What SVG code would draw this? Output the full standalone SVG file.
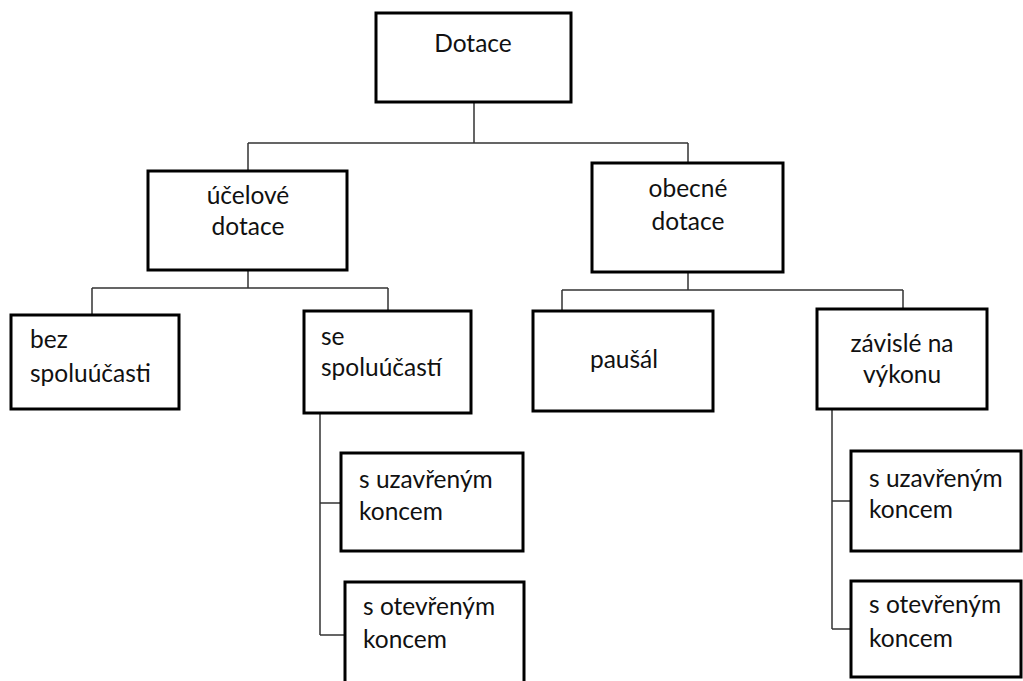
<svg xmlns="http://www.w3.org/2000/svg" width="1023" height="681" viewBox="0 0 1023 681">
<style>
.box{fill:#fff;stroke:#000;stroke-width:3}
.t{font-family:Lato,"Open Sans",sans-serif;font-size:24.5px;fill:#111}
.c{text-anchor:middle}
.ln{fill:none;stroke:#333;stroke-width:1.5}
</style>
<rect width="1023" height="681" fill="#fff"/>
<g id="connectors">
<path class="ln" d="M474 102V143M248 143H688M248 143V171M688 143V163"/>
<path class="ln" d="M248 270V288M92 288H388M92 288V315M388 288V311"/>
<path class="ln" d="M688 272V290M562 290H903M562 290V311M903 290V309"/>
<path class="ln" d="M320 413V635M320 503H341M320 635H345"/>
<path class="ln" d="M832 409V629M832 501H851M832 629H851"/>
</g>
<g id="n-dotace"><rect class="box" x="376" y="13" width="195" height="89"/><text class="t c" x="473" y="52">Dotace</text></g>
<g id="n-ucelove"><rect class="box" x="148" y="171" width="199" height="99"/><text class="t c" x="248" y="204">účelové</text><text class="t c" x="248" y="235">dotace</text></g>
<g id="n-obecne"><rect class="box" x="592" y="163" width="191" height="109"/><text class="t c" x="688" y="197">obecné</text><text class="t c" x="688" y="230">dotace</text></g>
<g id="n-bez"><rect class="box" x="11" y="315" width="168" height="94"/><text class="t" x="30" y="348">bez</text><text class="t" x="30" y="382">spoluúčasti</text></g>
<g id="n-se"><rect class="box" x="304" y="311" width="167" height="102"/><text class="t" x="321" y="345">se</text><text class="t" x="321" y="376">spoluúčastí</text></g>
<g id="n-pausal"><rect class="box" x="533" y="311" width="180" height="100"/><text class="t c" x="624" y="368">paušál</text></g>
<g id="n-zavisle"><rect class="box" x="817" y="309" width="170" height="100"/><text class="t c" x="902" y="352">závislé na</text><text class="t c" x="902" y="383">výkonu</text></g>
<g id="n-l-uzavreny"><rect class="box" x="341" y="453" width="182" height="98"/><text class="t" x="359" y="488">s uzavřeným</text><text class="t" x="359" y="520">koncem</text></g>
<g id="n-l-otevreny"><rect class="box" x="345" y="582" width="179" height="110"/><text class="t" x="363" y="615">s otevřeným</text><text class="t" x="363" y="648">koncem</text></g>
<g id="n-r-uzavreny"><rect class="box" x="851" y="451" width="170" height="100"/><text class="t" x="869" y="487">s uzavřeným</text><text class="t" x="869" y="518">koncem</text></g>
<g id="n-r-otevreny"><rect class="box" x="851" y="581" width="170" height="96"/><text class="t" x="869" y="613">s otevřeným</text><text class="t" x="869" y="647">koncem</text></g>
</svg>
